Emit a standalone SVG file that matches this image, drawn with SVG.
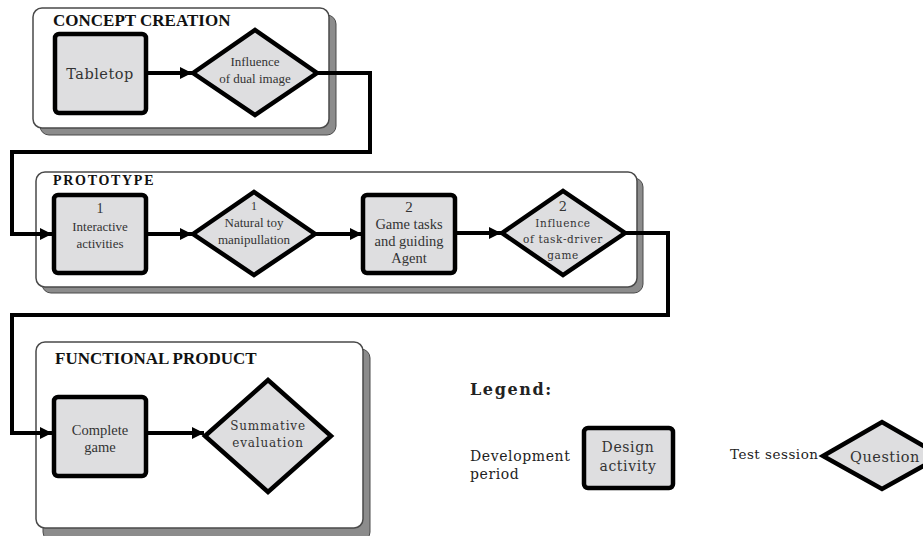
<svg xmlns="http://www.w3.org/2000/svg" width="923" height="536" viewBox="0 0 923 536">
<defs>
<style>
.panel{fill:#fff;stroke:#4a4a4a;stroke-width:1.5}
.shadow{fill:#8c8c8c;stroke:#4a4a4a;stroke-width:1}
.act{fill:#dedee0;stroke:#000;stroke-width:4.5}
.q{fill:#dedee0;stroke:#000;stroke-width:4.5;stroke-linejoin:miter}
.conn{fill:none;stroke:#000;stroke-width:4}
.title{font-family:"Liberation Serif",serif;font-weight:bold;fill:#111}
.t{font-family:"Liberation Serif",serif;fill:#333;text-anchor:middle}
.p{font-family:"DejaVu Serif","Liberation Serif",serif;fill:#333;text-anchor:middle}
.lg{font-family:"DejaVu Serif","Liberation Serif",serif;fill:#222}
</style>
<marker id="ah" viewBox="0 0 10 10" refX="10" refY="5" markerWidth="3" markerHeight="3" orient="auto" markerUnits="strokeWidth">
<path d="M0,0 L10,5 L0,10 z" fill="#000"/>
</marker>
</defs>

<g id="panel-concept">
<rect class="shadow" x="40" y="15" width="296" height="120" rx="9"/>
<rect class="panel" x="33" y="8" width="296" height="120" rx="9"/>
<text class="title" x="53" y="26" font-size="17">CONCEPT CREATION</text>
</g>
<g id="panel-prototype">
<rect class="shadow" x="42" y="178" width="601" height="115" rx="9"/>
<rect class="panel" x="36" y="172" width="601" height="115" rx="9"/>
<text class="title" x="53" y="185" font-size="14" letter-spacing="1.7">PROTOTYPE</text>
</g>
<g id="panel-functional">
<rect class="shadow" x="43" y="349" width="327" height="192" rx="9"/>
<rect class="panel" x="36" y="342" width="327" height="186" rx="9"/>
<text class="title" x="55" y="364" font-size="17">FUNCTIONAL PRODUCT</text>
</g>

<g id="connectors">
<line class="conn" x1="147" y1="73" x2="192" y2="73" marker-end="url(#ah)"/>
<polyline class="conn" points="317,73 370,73 370,152 12,152 12,234 52,234" marker-end="url(#ah)"/>
<line class="conn" x1="147" y1="234" x2="192" y2="234" marker-end="url(#ah)"/>
<line class="conn" x1="315" y1="234" x2="362" y2="234" marker-end="url(#ah)"/>
<line class="conn" x1="455" y1="233" x2="501" y2="233" marker-end="url(#ah)"/>
<polyline class="conn" points="625,233 668,233 668,315 12,315 12,433 52,433" marker-end="url(#ah)"/>
<line class="conn" x1="147" y1="433" x2="204" y2="433" marker-end="url(#ah)"/>
</g>

<g id="tabletop">
<rect class="act" x="55" y="34" width="91" height="79" rx="4"/>
<text class="p" x="100" y="79" font-size="14.5" letter-spacing="0.5">Tabletop</text>
</g>
<g id="influence-dual">
<polygon class="q" points="193,73 255,30 317,73 255,115"/>
<text class="t" x="255" y="66" font-size="13">Influence</text>
<text class="t" x="255" y="83" font-size="13">of dual image</text>
</g>

<g id="interactive">
<rect class="act" x="54" y="195" width="92" height="78" rx="4"/>
<text class="t" x="100" y="213" font-size="14">1</text>
<text class="t" x="100" y="231" font-size="13">Interactive</text>
<text class="t" x="100" y="248" font-size="13">activities</text>
</g>
<g id="natural-toy">
<polygon class="q" points="193,234 254,192 315,234 254,275"/>
<text class="t" x="254" y="210" font-size="12">1</text>
<text class="t" x="254" y="227" font-size="13">Natural toy</text>
<text class="t" x="254" y="244" font-size="13">manipullation</text>
</g>
<g id="game-tasks">
<rect class="act" x="363" y="195" width="92" height="78" rx="4"/>
<text class="t" x="409" y="212" font-size="15">2</text>
<text class="t" x="409" y="229" font-size="14.5">Game tasks</text>
<text class="t" x="409" y="246" font-size="14.5">and guiding</text>
<text class="t" x="409" y="263" font-size="14.5">Agent</text>
</g>
<g id="influence-task">
<polygon class="q" points="502,233 563,191 625,233 563,275"/>
<text class="p" x="563" y="211" font-size="13">2</text>
<text class="p" x="563" y="227" font-size="10.5" letter-spacing="0.6">Influence</text>
<text class="p" x="563" y="243" font-size="10.5" letter-spacing="0.6">of task-driver</text>
<text class="p" x="563" y="259" font-size="10.5" letter-spacing="0.6">game</text>
</g>

<g id="complete-game">
<rect class="act" x="54" y="397" width="92" height="79" rx="4"/>
<text class="t" x="100" y="435" font-size="14.5">Complete</text>
<text class="t" x="100" y="452" font-size="14.5">game</text>
</g>
<g id="summative">
<polygon class="q" points="205,436 268,380 331,436 268,492"/>
<text class="p" x="268" y="430" font-size="12" letter-spacing="0.8">Summative</text>
<text class="p" x="268" y="447" font-size="12" letter-spacing="0.8">evaluation</text>
</g>

<g id="legend">
<text class="lg" x="470" y="395" font-size="16" font-weight="bold" letter-spacing="1.6">Legend:</text>
<text class="lg" x="470" y="461" font-size="14" letter-spacing="0.6">Development</text>
<text class="lg" x="470" y="479" font-size="14" letter-spacing="0.6">period</text>
<text class="lg" x="730" y="459" font-size="13.5" letter-spacing="0.5">Test session</text>
</g>
<g id="legend-design">
<rect class="act" x="584" y="428" width="89" height="60" rx="4"/>
<text class="p" x="628" y="452" font-size="14" letter-spacing="0.6">Design</text>
<text class="p" x="628" y="471" font-size="14" letter-spacing="0.6">activity</text>
</g>
<g id="legend-question">
<polygon class="q" points="823,456 882,422 941,456 882,489"/>
<text class="p" x="885" y="462" font-size="14.5" letter-spacing="0.5">Question</text>
</g>
</svg>
